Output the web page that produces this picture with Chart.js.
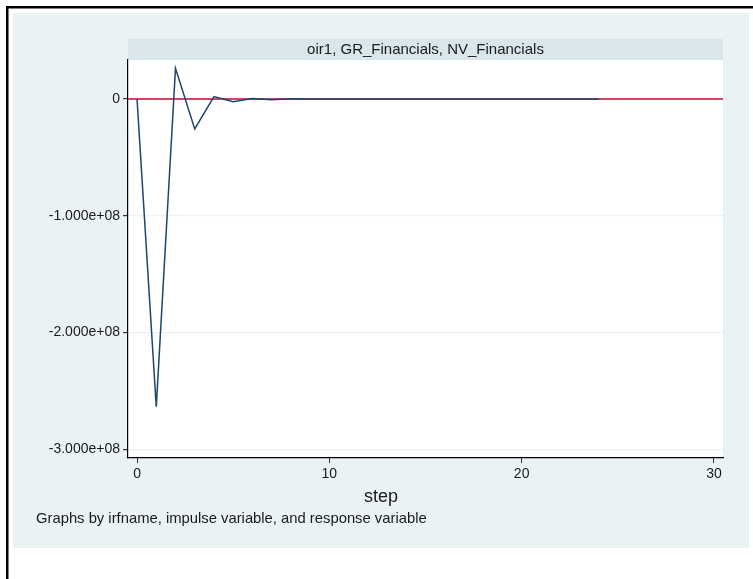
<!DOCTYPE html>
<html>
<head>
<meta charset="utf-8">
<script src="https://cdn.jsdelivr.net/npm/chart.js@4"></script>
<style>
  html, body { margin: 0; padding: 0; background: #fff; }
  #wrap { width: 753px; height: 579px; position: relative; }
</style>
</head>
<body>
<div id="wrap"><canvas id="irf-chart" width="753" height="579"></canvas></div>
<script>
// impulse response: oir1, GR_Financials -> NV_Financials
const steps = [0, 1, 2, 3, 4, 5, 6, 7, 8, 9, 10, 11, 12, 13, 14, 15, 16, 17, 18, 19, 20, 21, 22, 23, 24];
const oirValues = [0, -2.637e8, 2.63e7, -2.57e7, 2.0e6, -2.3e6, 4.0e5, -6.0e5, 2.0e5, -1.0e5,
                   5.0e4, 0, 0, 0, 0, 0, 0, 0, 0, 0, 0, 0, 0, 0, 0];
const yTicks = [0, -1e8, -2e8, -3e8];
const xTicks = [0, 10, 20, 30];
const xRange = [-0.47, 30.47];
const yRange = [-3.076e8, 3.34e7];
const refLine = [0, 0];

const stripTitle = 'oir1, GR_Financials, NV_Financials';
const xTitle = 'step';
const noteText = 'Graphs by irfname, impulse variable, and response variable';

const FONT = "'Liberation Sans', Arial, sans-serif";
const TEXT = '#1a1a1a';

function fmtY(v) {
    if (v === 0) return '0';
    return v.toExponential(3).replace(/e([+-])(\d)$/, 'e$10$2');
}

// backgrounds, strip, border and notes (Stata look)
const stataFrame = {
    id: 'stataFrame',
    beforeDraw(chart) {
        const ctx = chart.ctx;
        const a = chart.chartArea;
        ctx.save();
        ctx.fillStyle = '#ffffff';
        ctx.fillRect(0, 0, chart.width, chart.height);
        ctx.fillStyle = '#eaf2f3';
        ctx.fillRect(13, 13, 736, 535);
        ctx.fillStyle = '#d9e6eb';
        ctx.fillRect(a.left, 39, a.right - a.left, a.top - 39);
        ctx.fillStyle = '#ffffff';
        ctx.fillRect(a.left, a.top, a.right - a.left, a.bottom - a.top);
        // black frame on top and left
        ctx.fillStyle = '#000';
        ctx.fillRect(6, 6, chart.width - 6, 2.5);
        ctx.fillRect(6, 6, 2.5, chart.height - 6);
        ctx.restore();
    },
    afterDraw(chart) {
        const ctx = chart.ctx;
        const a = chart.chartArea;
        ctx.save();
        ctx.fillStyle = TEXT;
        ctx.textBaseline = 'middle';
        ctx.textAlign = 'center';
        ctx.font = '15px ' + FONT;
        ctx.fillText(stripTitle, (a.left + a.right) / 2, 50);
        ctx.font = '18px ' + FONT;
        ctx.fillText(xTitle, 381, 497);
        ctx.textAlign = 'left';
        ctx.font = '14.8px ' + FONT;
        ctx.fillText(noteText, 36, 519);
        ctx.restore();
    }
};

const ctx = document.getElementById('irf-chart').getContext('2d');
new Chart(ctx, {
    type: 'line',
    data: {
        datasets: [
            {
                label: 'oirf',
                data: steps.map((s, i) => ({ x: s, y: oirValues[i] })),
                borderColor: '#1a476f',
                borderWidth: 1.5,
                pointRadius: 0,
                tension: 0,
                order: 0
            },
            {
                label: 'zero',
                data: xRange.map((x, i) => ({ x: x, y: refLine[i] })),
                borderColor: '#cf4766',
                borderWidth: 2,
                pointRadius: 0,
                order: 1
            }
        ]
    },
    options: {
        responsive: false,
        animation: false,
        layout: { padding: { left: 0, top: 60, right: 30, bottom: 0 } },
        plugins: {
            legend: { display: false },
            tooltip: { enabled: false }
        },
        scales: {
            x: {
                type: 'linear',
                min: xRange[0],
                max: xRange[1],
                afterBuildTicks: (scale) => { scale.ticks = xTicks.map(v => ({ value: v })); },
                afterFit: (scale) => { scale.height = 121; },
                ticks: {
                    color: TEXT,
                    font: { family: FONT, size: 14 },
                    padding: 3,
                    maxRotation: 0,
                    callback: (v) => String(v)
                },
                grid: {
                    drawOnChartArea: false,
                    drawTicks: true,
                    tickLength: 5,
                    tickColor: '#333'
                },
                border: { display: true, color: '#000', width: 1.2 }
            },
            y: {
                type: 'linear',
                min: yRange[0],
                max: yRange[1],
                afterBuildTicks: (scale) => { scale.ticks = yTicks.map(v => ({ value: v })); },
                afterFit: (scale) => { scale.width = 128; },
                ticks: {
                    color: TEXT,
                    font: { family: FONT, size: 14 },
                    padding: 3,
                    callback: (v) => fmtY(v)
                },
                grid: {
                    color: '#eaf2f3',
                    lineWidth: 1.2,
                    drawTicks: true,
                    tickLength: 5,
                    tickColor: '#333'
                },
                border: { display: true, color: '#000', width: 1.2 }
            }
        }
    },
    plugins: [stataFrame]
});
</script>
</body>
</html>
